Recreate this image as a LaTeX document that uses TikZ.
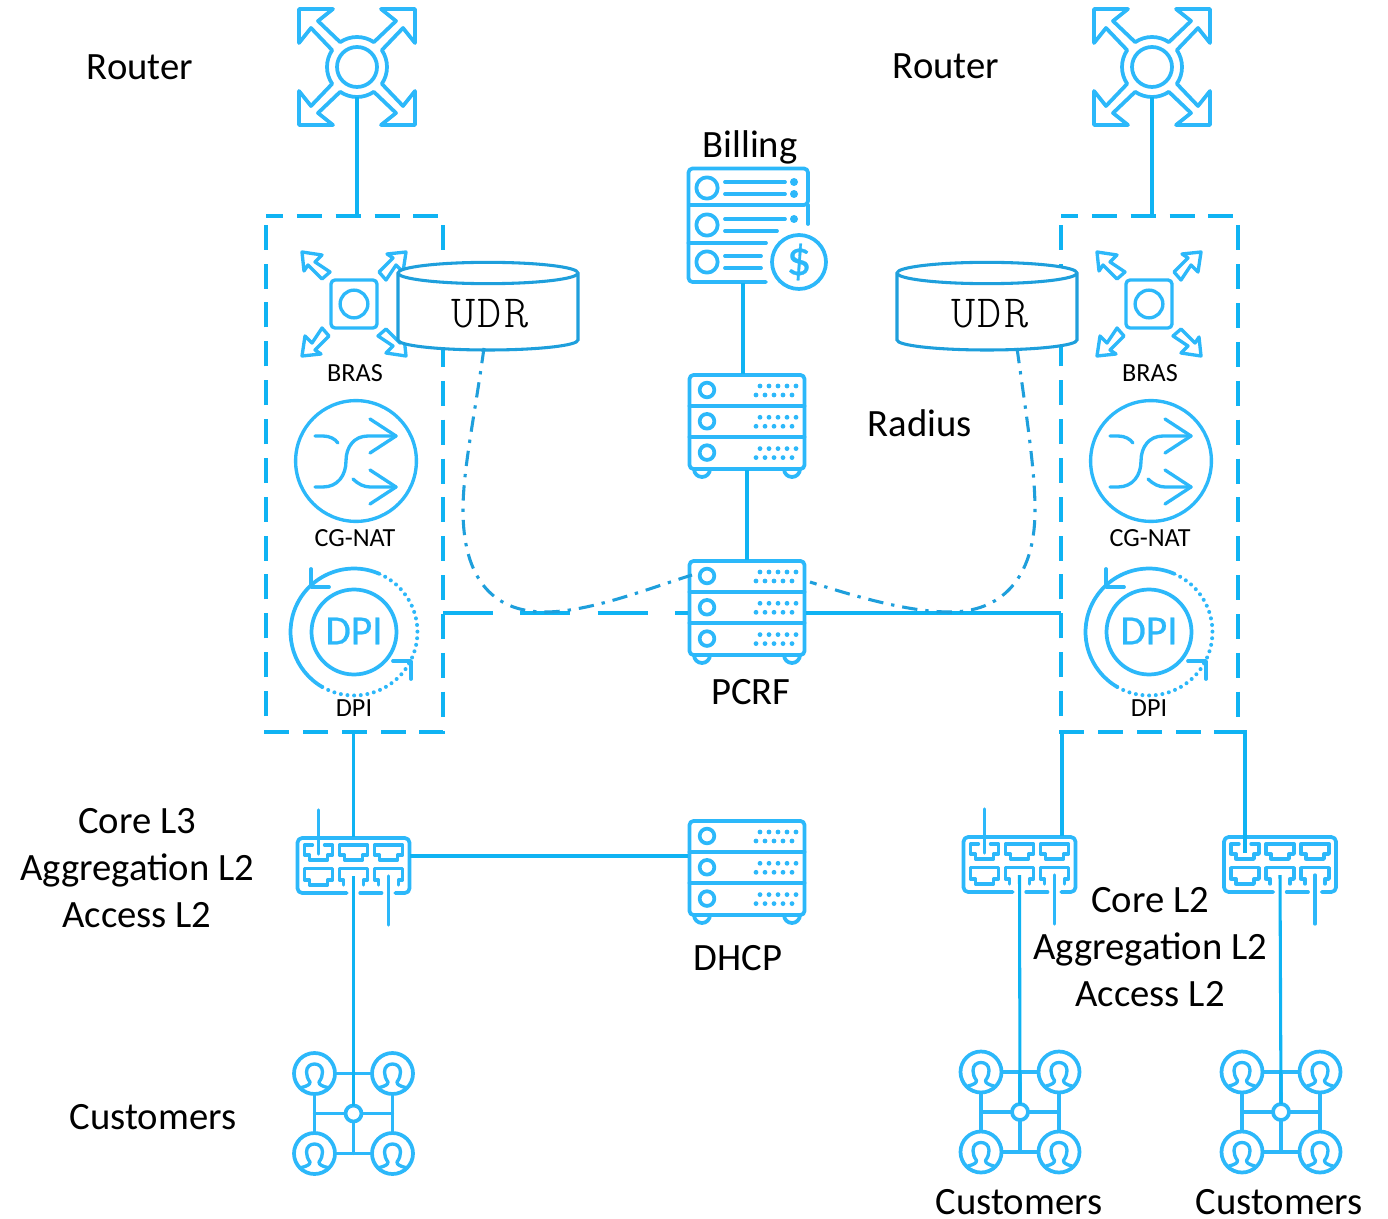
\documentclass[tikz,border=0pt]{standalone}
\usepackage{fontspec}
\setmainfont{Carlito}
\newfontfamily\udrfont{Latin Modern Mono Light}[LetterSpace=5]
\usetikzlibrary{calc}
\definecolor{iconblue}{HTML}{2CB8FA}
\definecolor{linkblue}{HTML}{0FB3F3}
\definecolor{udrblue}{HTML}{1E9FDC}
\tikzset{
  icon/.style={draw=iconblue,line width=2.8pt,line cap=round,line join=round},
  thinicon/.style={draw=iconblue,line width=2.5pt,line cap=round,line join=round},
  link/.style={draw=linkblue,line width=2.3pt},
  longdash/.style={draw=linkblue,line width=2.3pt,dash pattern=on 37.5pt off 20.5pt},
  boxdash/.style={draw=linkblue,line width=2.3pt,dash pattern=on 18.75pt off 10.4pt,dash phase=6pt},
  dashdot/.style={draw=udrblue,line width=2.3pt,dash pattern=on 11.5pt off 6pt on 2.5pt off 6pt},
  cyl/.style={draw=udrblue,line width=2.3pt,fill=white},
  lbl/.style={font=\fontsize{29}{35}\selectfont,text=black,inner sep=0pt},
  small/.style={font=\fontsize{19.6}{23}\selectfont,text=black,inner sep=0pt},
  ghost/.style 2 args={inner sep=0pt,outer sep=0pt,minimum width=#1*0.75pt,minimum height=#2*0.75pt},
  ring/.style={icon,circle,inner sep=0pt,outer sep=0pt,minimum size=#1*0.75pt},
  router/.pic={
    \node[ghost={60}{60},circle] (-n) at (0,0) {};
    \draw[icon] (0,0) circle[radius=15pt];
    \foreach \a in {56,146,236,326}{
      \draw[icon] (\a:22.5pt) arc[start angle=\a,delta angle=68,radius=22.5pt];
    }
    \foreach \r in {0,90,180,270}{
      \draw[icon,rotate=\r] (-17,-25) -- (-39,-46) -- (-24,-58) -- (-58,-58) -- (-58,-24) -- (-46,-39) -- (-25,-17);
    }
  },
  bras/.pic={
    \draw[thinicon,rounded corners=3pt] (-23,-24) rectangle (23,24);
    \draw[thinicon] (0,0) circle[radius=10.4pt];
    \foreach \r in {0,90,180,270}{
      \draw[thinicon,rotate=\r] (-52,-52) -- (-32,-49) -- (-39,-42) -- (-24,-32) -- (-32,-25) -- (-46,-39) -- (-50,-33) -- cycle;
    }
  },
  cgnat/.pic={
    \draw[thinicon] (0,0) circle[radius=45.3pt];
    \draw[thinicon] (-41,26) -- (-33,26) .. controls (-18,26) and (-10,14) .. (-10,0) .. controls (-10,-14) and (-2,-25) .. (12,-25) -- (40,-25);
    \draw[thinicon] (14,-42) -- (40,-25) -- (14,-8);
    \draw[thinicon] (-41,-25) -- (-33,-25) .. controls (-26,-25) and (-21,-22) .. (-18,-18);
    \draw[thinicon] (-3,18) .. controls (2,23) and (8,26) .. (14,26) -- (40,26);
    \draw[thinicon] (14,9) -- (40,26) -- (14,43);
  },
  dpi/.pic={
    \node[ring=85] (-c) at (0,0) {};
    \node[font=\fontsize{31}{31}\selectfont\addfontfeature{FakeBold=0.6},text=iconblue,inner sep=0pt] (-t) at (0,-1) {DPI};
    \draw[icon] (66:47.6pt) arc[start angle=66,end angle=240,radius=47.6pt];
    \draw[draw=iconblue,line width=3pt,line cap=round,dash pattern=on 0pt off 5pt] (240:47.6pt) arc[start angle=240,end angle=426,radius=47.6pt];
    \draw[icon] (-43,-63) -- (-43,-45) -- (-25,-45);
    \draw[icon] (39,29) -- (57,29) -- (57,47);
  },
  server/.pic={
    \node[ghost={118}{96}] (-n) at (0,0) {};
    \draw[icon,rounded corners=3pt] (-57.5,-47) rectangle (57.5,47);
    \draw[icon] (-57.5,-16) -- (57.5,-16);
    \draw[icon] (-57.5,15) -- (57.5,15);
    \draw[icon] (-53,47) arc[start angle=180,end angle=360,radius=6pt];
    \draw[icon] (37,47) arc[start angle=180,end angle=360,radius=6pt];
    \foreach \d in {0,31.3,62.6}{
      \draw[icon] (-40,-32+\d) circle[radius=5.5pt];
      \foreach \x in {13,22,31,40,49}{\fill[iconblue] (\x,-36+\d) circle[radius=1.8pt];}
      \foreach \x in {9,18,27,36,45}{\fill[iconblue] (\x,-27+\d) circle[radius=1.8pt];}
    }
  },
  switchbox/.pic={
    \node[ghost={113}{56}] (-n) at (0,0) {};
    \coordinate (-a) at (-35,-11);
    \coordinate (-b) at (0,11);
    \coordinate (-c) at (35,11);
    \draw[icon,rounded corners=3.5pt] (-6.7,28) -- (-56,28) -- (-56,-27) -- (56,-27) -- (56,28) -- (41.7,28);
    \draw[icon] (6.7,28) -- (28,28);
    \draw[thinicon] (-29,-20) -- (-21,-20) -- (-21,-10) -- (-26,-10) -- (-26,-5) -- (-44,-5) -- (-44,-10) -- (-49,-10) -- (-49,-20) -- (-41,-20);
    \foreach \x in {0,35}{
      \draw[thinicon] (\x-14,-20) -- (\x+14,-20) -- (\x+14,-10) -- (\x+9,-10) -- (\x+9,-5) -- (\x-9,-5) -- (\x-9,-10) -- (\x-14,-10) -- cycle;
      \draw[thinicon] (\x-10,20) -- (\x-10,15) -- (\x-14,15) -- (\x-14,3.7) -- (\x+14,3.7) -- (\x+14,15) -- (\x+10,15) -- (\x+10,20);
    }
    \draw[thinicon] (-49,3.7) -- (-21,3.7) -- (-21,15) -- (-26,15) -- (-26,20) -- (-44,20) -- (-44,15) -- (-49,15) -- cycle;
  },
  person/.pic={
    \draw[thinicon] (-13,16.5) -- (-13,14) .. controls (-7,12.5) and (-4.5,11) .. (-4.5,8.5) .. controls (-7,5) and (-8,2) .. (-8,-1.5)
      .. controls (-8,-7) and (-4,-9.5) .. (0,-9.5) .. controls (4,-9.5) and (8,-7) .. (8,-1.5)
      .. controls (8,2) and (7,5) .. (4.5,8.5) .. controls (4.5,11) and (7,12.5) .. (13,14) -- (13,16.5);
  },
  customers/.pic={
    \node[ring=41] (-a) at (-39,-40) {};
    \node[ring=41] (-b) at (39,-40) {};
    \node[ring=41] (-c) at (-39,40) {};
    \node[ring=41] (-d) at (39,40) {};
    \node[ring=16] (-h) at (0,0) {};
    \pic at (-39,-40) {person};
    \pic at (39,-40) {person};
    \pic at (-39,40) {person};
    \pic at (39,40) {person};
    \draw[thinicon] (-a) -- (-b);
    \draw[thinicon] (-c) -- (-d);
    \draw[thinicon] (-a) -- (-c);
    \draw[thinicon] (-b) -- (-d);
    \draw[thinicon] (-h.west) -- (-39,0);
    \draw[thinicon] (-h.east) -- (39,0);
    \draw[thinicon] (-h.north) -- (0,-40);
    \draw[thinicon] (-h.south) -- (0,40);
  }
}
\begin{document}
\begin{tikzpicture}[x=0.75pt,y=-0.75pt]
\useasboundingbox[fill=white] (0,0) rectangle (1388,1219);

% icons
\pic (routerL) at (357,67) {router};
\pic (routerR) at (1152,67) {router};
\pic (brasL) at (354,304) {bras};
\pic (brasR) at (1149,304) {bras};
\pic (natL) at (356,461) {cgnat};
\pic (natR) at (1151,461) {cgnat};
\pic (dpiL) at (354,632) {dpi};
\pic (dpiR) at (1149,632) {dpi};
\pic (radius) at (747,422) {server};
\pic (pcrf) at (747,608) {server};
\pic (dhcp) at (747,868) {server};
\pic (swL) at (353.5,865) {switchbox};
\pic (swM) at (1019.5,864) {switchbox};
\pic (swR) at (1280,864) {switchbox};
\pic (cuL) at (353.5,1113.5) {customers};
\pic (cuM) at (1020,1112) {customers};
\pic (cuR) at (1281,1112) {customers};

% dashed groups
\node[ghost={177}{516}] (boxL) at (354.5,474) {};
\node[ghost={177}{516}] (boxR) at (1149.5,474) {};
\foreach \b in {boxL,boxR}{
  \draw[boxdash] (\b.north west) -- (\b.north east) -- (\b.south east) -- (\b.south west) -- cycle;
}

% cylinders
\draw[cyl] (398,273) -- (398,340) arc[start angle=180,end angle=360,x radius=67.5pt,y radius=7.5pt] -- (578,273) arc[start angle=0,end angle=180,x radius=67.5pt,y radius=8pt] -- cycle;
\draw[cyl] (398,273) arc[start angle=180,end angle=360,x radius=67.5pt,y radius=8pt];
\draw[cyl] (897,273) -- (897,340) arc[start angle=180,end angle=360,x radius=67.5pt,y radius=7.5pt] -- (1077,273) arc[start angle=0,end angle=180,x radius=67.5pt,y radius=8pt] -- cycle;
\draw[cyl] (897,273) arc[start angle=180,end angle=360,x radius=67.5pt,y radius=8pt];
\node[inner sep=0pt,font=\fontsize{34.5}{34.5}\selectfont\udrfont] (udrL) at (490,314) {UDR};
\node[inner sep=0pt,font=\fontsize{34.5}{34.5}\selectfont\udrfont] (udrR) at (990,314) {UDR};

% billing
\coordinate (billS) at (743,283);
\draw[icon,rounded corners=3pt] (766,282) -- (688.5,282) -- (688.5,168.5) -- (808,168.5) -- (808,205) -- (688.5,205);
\draw[icon] (808,205) -- (808,224);
\draw[icon] (688.5,243) -- (766,243);
\foreach \y in {188,225,262}{\draw[icon] (707,\y) circle[radius=8pt];}
\draw[icon] (725,182) -- (785,182);
\draw[icon] (725,194) -- (785,194);
\draw[icon] (725,219) -- (785,219);
\draw[icon] (725,231) -- (777,231);
\draw[icon] (725,256) -- (761,256);
\draw[icon] (725,268) -- (761,268);
\foreach \y in {182,194,219}{\fill[iconblue] (794,\y) circle[radius=3pt];}
\node[icon,circle,fill=white,inner sep=0pt,minimum size=40.5pt,font=\fontsize{37}{37}\selectfont\addfontfeature{FakeBold=0.6},text=iconblue] (dollar) at (799,262) {\$};

% connectors
\draw[link] (routerL-n.south) -- (routerL-n.south |- boxL.north);
\draw[link] (routerR-n.south) -- (routerR-n.south |- boxR.north);
\draw[link] (billS) -- (billS |- radius-n.north);
\draw[link] (radius-n.south) -- (pcrf-n.north);
\coordinate (pl) at (boxL.east |- 0,613);
\draw[longdash] (pl) -- (pl -| pcrf-n.west);
\draw[link] (pl -| pcrf-n.east) -- (pl -| boxR.west);
\draw[link] (swL-n.north |- boxL.south) -- (swL-n.north);
\coordinate (dl) at (swL-n.east |- 0,856);
\draw[link] (dl) -- (dl -| dhcp-n.west);
\draw[link] (swL-b) -- (cuL-h.north);
\draw[link] (swM-b) -- (cuM-h.north);
\draw[link] (swR-b) -- (cuR-h.north);
\coordinate (bm) at (1062,732);
\draw[link] (bm) -- (bm |- swM-n.north);
\draw[link] (boxR.south east) -- (swR-a |- boxR.south) -- (swR-a);

% stub lines on switches
\coordinate (sa1) at ($(swL-a)+(0,-44)$);
\coordinate (sa2) at ($(swM-a)+(0,-44)$);
\coordinate (sc1) at ($(swL-c)+(0,49)$);
\coordinate (sc2) at ($(swM-c)+(0,49)$);
\coordinate (sc3) at ($(swR-c)+(0,49)$);
\draw[thinicon] (swL-a) -- (sa1);
\draw[thinicon] (swM-a) -- (sa2);
\draw[thinicon] (swL-c) -- (sc1);
\draw[thinicon] (swM-c) -- (sc2);
\draw[thinicon] (swR-c) -- (sc3);

% dash-dot links
\coordinate (udrLb) at (484,348);
\coordinate (udrRb) at (1017,348);
\coordinate (pcrfL) at (692,575);
\coordinate (pcrfR) at (810,582);
\draw[dashdot] (udrLb) .. controls (474,420) and (463,470) .. (463,510) .. controls (463,575) and (490,612) .. (545,612) .. controls (590,612) and (650,588) .. (pcrfL);
\draw[dashdot] (udrRb) .. controls (1027,420) and (1035,470) .. (1035,510) .. controls (1035,580) and (1000,612) .. (950,612) .. controls (910,612) and (860,598) .. (pcrfR);

% labels
\node[lbl] (t1) at (140,67) {Router};
\node[lbl] (t2) at (946,66) {Router};
\node[lbl] (t3) at (750,147) {Billing};
\node[lbl] (t4) at (920,423) {Radius};
\node[lbl] (t5) at (751,692) {PCRF};
\node[lbl] (t6) at (738,958) {DHCP};
\node[lbl,align=center] (t7) at (137,868) {Core L3\\Aggregation L2\\Access L2};
\node[lbl] (t8) at (153,1117) {Customers};
\node[lbl,align=center] (t9) at (1150,947) {Core L2\\Aggregation L2\\Access L2};
\node[lbl] (t10) at (1019,1202) {Customers};
\node[lbl] (t11) at (1279,1202) {Customers};
\node[small] (s1) at (355,373) {BRAS};
\node[small] (s2) at (1150,373) {BRAS};
\node[small] (s3) at (355,538) {CG-NAT};
\node[small] (s4) at (1150,538) {CG-NAT};
\node[small] (s5) at (354,708) {DPI};
\node[small] (s6) at (1149,708) {DPI};
\end{tikzpicture}
\end{document}
